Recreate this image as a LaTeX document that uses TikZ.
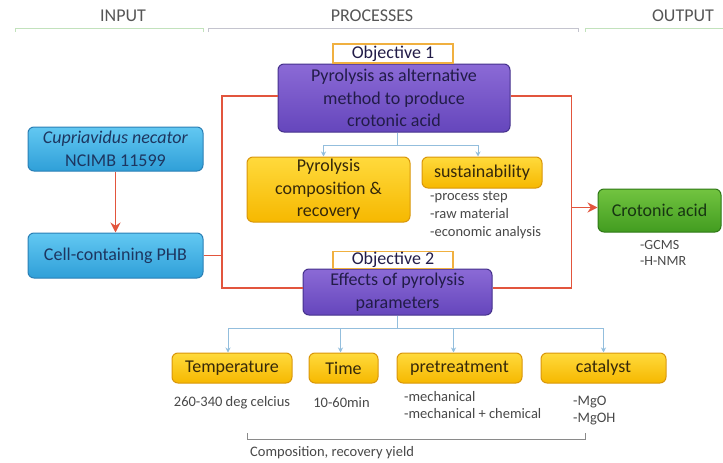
\documentclass[tikz,border=0pt]{standalone}
\usepackage{fontspec}
\setmainfont{Carlito}
\usetikzlibrary{arrows.meta}

\definecolor{bluetop}{HTML}{62C8F2}
\definecolor{bluebot}{HTML}{2F9FD8}
\definecolor{blueedge}{HTML}{2A7FB5}
\definecolor{bluetext}{HTML}{1D3660}
\definecolor{purptop}{HTML}{8B6AD6}
\definecolor{purpbot}{HTML}{6546BC}
\definecolor{purpedge}{HTML}{45318C}
\definecolor{purptext}{HTML}{221C48}
\definecolor{yeltop}{HTML}{FFDA3C}
\definecolor{yelbot}{HTML}{F6B800}
\definecolor{yeledge}{HTML}{D9960A}
\definecolor{yeltext}{HTML}{35280A}
\definecolor{grntop}{HTML}{72C440}
\definecolor{grnbot}{HTML}{429C20}
\definecolor{grnedge}{HTML}{2F7816}
\definecolor{grntext}{HTML}{173512}
\definecolor{redc}{HTML}{E2553D}
\definecolor{linkblue}{HTML}{93BEDD}
\definecolor{notegray}{HTML}{484848}
\definecolor{headgray}{HTML}{555555}
\definecolor{objedge}{HTML}{F0B040}
\definecolor{railgreen}{HTML}{C2E2BC}
\definecolor{railgray}{HTML}{C4C4CE}
\definecolor{bracketgray}{HTML}{8A8A8A}

\begin{document}
\begin{tikzpicture}[x=1pt,y=-1pt,
  box/.style={rounded corners=6pt, draw, line width=1pt, align=center,
    inner sep=1pt, font=\fontsize{18}{22.5}\selectfont},
  bluebox/.style={box, draw=blueedge, top color=bluetop, bottom color=bluebot, text=bluetext},
  purplebox/.style={box, draw=purpedge, top color=purptop, bottom color=purpbot, text=purptext},
  yellowbox/.style={box, draw=yeledge, top color=yeltop, bottom color=yelbot, text=yeltext},
  greenbox/.style={box, draw=grnedge, top color=grntop, bottom color=grnbot, text=grntext},
  objlabel/.style={draw=objedge, fill=white, line width=1.2pt, minimum width=120pt,
    minimum height=19pt, inner sep=0pt, font=\fontsize{18}{20}\selectfont, text=purptext},
  note/.style={font=\fontsize{14.5}{18}\selectfont, text=notegray, align=left, inner sep=0pt},
  header/.style={font=\fontsize{18}{20}\selectfont, text=headgray},
  redline/.style={draw=redc, line width=1.8pt},
  redarrow/.style={redline, -{Stealth[length=10pt,width=10pt]}},
  bluelink/.style={draw=linkblue, line width=1pt},
  bluearrow/.style={bluelink, -{Stealth[length=5pt,width=5pt]}},
  rail/.style={line width=1pt},
  bracket/.style={draw=bracketgray, line width=1pt}]

\useasboundingbox (0,0) rectangle (723,463);

% column headings with their rails
\node[header] (hin) at (123,16) {INPUT};
\node[header] (hpr) at (372,16) {PROCESSES};
\node[header] (hout) at (683,16) {OUTPUT};
\draw[rail, draw=railgreen] (15,32) -- (15,28) -- (203,28) -- (203,32);
\draw[rail, draw=railgray] (208,32) -- (208,28) -- (578,28) -- (578,32);
\draw[rail, draw=railgreen] (585,32) -- (585,28) -- (725,28);

% input side
\node[bluebox, minimum width=175pt, minimum height=44pt] (cn) at (115.5,149)
  {\textit{Cupriavidus necator}\\NCIMB 11599};
\node[bluebox, minimum width=175pt, minimum height=45pt] (phb) at (115.5,255.5)
  {Cell-containing PHB};

% objective 1
\node[purplebox, minimum width=232pt, minimum height=68pt] (o1) at (394,98)
  {Pyrolysis as alternative\\method to produce\\crotonic acid};
\node[objlabel] (l1) at (393,53.5) {Objective 1};
\node[yellowbox, minimum width=163pt, minimum height=65pt] (comp) at (328.5,189.5)
  {Pyrolysis\\composition \&\\recovery};
\node[yellowbox, minimum width=120pt, minimum height=31pt] (sus) at (482,172.5)
  {sustainability};
\node[note, anchor=west] (susn) at (430,215)
  {-process step\\-raw material\\-economic analysis};

% objective 2
\node[purplebox, minimum width=189pt, minimum height=46pt] (o2) at (397.5,292)
  {Effects of pyrolysis\\parameters};
\node[objlabel, minimum height=17pt] (l2) at (393,260) {Objective 2};

% output side
\node[greenbox, minimum width=123pt, minimum height=43pt] (ca) at (659.5,210.5)
  {Crotonic acid};
\node[note, anchor=west, font=\fontsize{14}{16}\selectfont] (can) at (640,253)
  {-GCMS\\-H-NMR};

% pyrolysis parameters
\node[yellowbox, minimum width=120pt, minimum height=30pt] (temp) at (232,368) {Temperature};
\node[yellowbox, minimum width=69pt, minimum height=30pt] (time) at (343.5,368) {Time};
\node[yellowbox, minimum width=125pt, minimum height=30pt] (pre) at (459.5,368) {pretreatment};
\node[yellowbox, minimum width=125pt, minimum height=30pt] (cat) at (603.5,368) {catalyst};
\node[note] (tempn) at (232,403) {260-340 deg celcius};
\node[note] (timen) at (341.5,403) {10-60min};
\node[note, anchor=west, font=\fontsize{14.5}{17}\selectfont] (pren) at (404,405.5)
  {-mechanical\\-mechanical + chemical};
\node[note, anchor=west, font=\fontsize{14.5}{17}\selectfont] (catn) at (573,410.5)
  {-MgO\\-MgOH};

% bracket grouping the measured quantities
\coordinate (bl) at (247,433);
\coordinate (br) at (585,433);
\draw[bracket] (bl) -- ++(0,6) -| (br);
\node[note, anchor=west] (cry) at (250,453) {Composition, recovery yield};

% blue branch links
\coordinate (j1) at (397,145);
\draw[bluelink] (o1.south -| j1) -- (j1);
\draw[bluearrow] (j1) -| ([xshift=-5pt]comp.north);
\draw[bluearrow] (j1) -| ([xshift=-4pt]sus.north);
\coordinate (j2) at (397,328);
\draw[bluelink] (o2.south -| j2) -- (j2);
\draw[bluearrow] (j2) -| ([xshift=-4pt]temp.north);
\draw[bluearrow] (j2) -| ([xshift=-3pt]time.north);
\draw[bluearrow] (j2) -| ([xshift=-6pt]pre.north);
\draw[bluearrow] (j2) -| (cat.north);

% red main flow
\coordinate (jl) at (222,200);
\coordinate (jr) at (571.5,200);
\draw[redarrow] (cn.south) -- (phb.north);
\draw[redline] (phb.east) -- (phb.east -| jl);
\draw[redline] ([yshift=2pt]o1.west) -| (jl) |- ([yshift=4pt]o2.west);
\draw[redline] ([yshift=2pt]o1.east) -| (jr) |- ([yshift=4pt]o2.east);
\coordinate (cin) at ([yshift=3pt]ca.west);
\draw[redarrow] (jr |- cin) -- (cin);
\end{tikzpicture}
\end{document}
